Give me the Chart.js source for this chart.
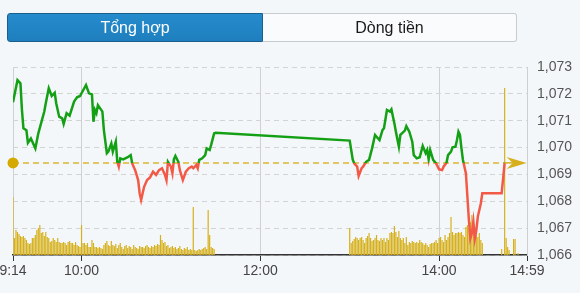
<!DOCTYPE html>
<html>
<head>
<meta charset="utf-8">
<script src="https://cdn.jsdelivr.net/npm/chart.js@4.4.1/dist/chart.umd.min.js"></script>
<style>
  html, body { margin: 0; padding: 0; background: #f4f7fa; }
  body { width: 580px; height: 293px; position: relative; overflow: hidden; font-family: "Liberation Sans", Arial, sans-serif; }
  #chartIndex { position: absolute; left: 0; top: 0; }
  .tabs { position: absolute; left: 7px; top: 13px; width: 510px; height: 29px; display: flex; }
  .tab { box-sizing: border-box; height: 29px; line-height: 27px; text-align: center; font-size: 16px; }
  .tab.active { width: 256px; background: linear-gradient(#258bcc, #1f7fbe); color: #fff; border: 1px solid #1a5f8d; border-radius: 3px 0 0 3px; }
  .tab.other { flex: 1; background: #f9fbfd; color: #1a1a1a; border: 1px solid #c8ccd0; border-left: none; border-radius: 0 3px 3px 0; }
</style>
</head>
<body>
<canvas id="chartIndex" width="580" height="293"></canvas>
<div class="tabs">
  <div class="tab active">Tổng hợp</div>
  <div class="tab other">Dòng tiền</div>
</div>
<script>
// truc thoi gian
const tickLabels = ['9:14', '10:00', '12:00', '14:00', '14:59'];
const refPrice = 1069.43;

// gia chi so
const priceTimes = [
  '9:14', '9:17', '9:19', '9:20', '9:21', '9:23', '9:24', '9:26', '9:29', '9:31',
  '9:35', '9:36', '9:38', '9:40', '9:42', '9:43', '9:45', '9:47', '9:48', '9:50',
  '9:52', '9:55', '9:57', '9:59', '10:03', '10:05', '10:07', '10:08', '10:09', '10:10',
  '10:11', '10:14', '10:15', '10:17', '10:18', '10:20', '10:21', '10:23', '10:24', '10:25',
  '10:26', '10:28', '10:31', '10:33', '10:34', '10:36', '10:38', '10:39', '10:40', '10:42',
  '10:44', '10:46', '10:48', '10:50', '10:52', '10:54', '10:56', '10:57', '10:58', '11:00',
  '11:01', '11:02', '11:03', '11:05', '11:06', '11:08', '11:10', '11:12', '11:14', '11:15',
  '11:17', '11:18', '11:19', '11:21', '11:23', '11:24', '11:26', '11:27', '11:29', '11:30',
  '13:00', '13:01', '13:02', '13:03', '13:05', '13:06', '13:08', '13:09', '13:11', '13:13',
  '13:15', '13:17', '13:19', '13:20', '13:22', '13:23', '13:25', '13:27', '13:28', '13:30',
  '13:31', '13:33', '13:34', '13:37', '13:38', '13:40', '13:42', '13:43', '13:45', '13:47',
  '13:49', '13:51', '13:52', '13:53', '13:54', '13:56', '13:58', '14:00', '14:02', '14:03',
  '14:05', '14:06', '14:08', '14:09', '14:11', '14:12', '14:13', '14:14', '14:15', '14:16',
  '14:18', '14:19', '14:20', '14:21', '14:22', '14:23', '14:24', '14:25', '14:26', '14:28',
  '14:29', '14:42', '14:44'
];
const priceValues = [
  1071.69, 1072.51, 1072.39, 1071.40, 1070.72, 1070.65, 1070.18, 1070.34, 1069.97, 1070.53,
  1071.34, 1071.65, 1072.21, 1071.92, 1072.04, 1071.65, 1071.15, 1071.09, 1070.88, 1071.28,
  1071.19, 1071.71, 1071.87, 1071.92, 1072.33, 1072.02, 1071.98, 1070.96, 1071.40, 1071.28,
  1071.58, 1071.34, 1070.65, 1069.79, 1069.85, 1070.15, 1069.85, 1070.22, 1069.47, 1069.29,
  1069.60, 1069.56, 1069.64, 1069.72, 1069.41, 1069.16, 1068.79, 1068.30, 1068.05, 1068.54,
  1068.79, 1068.89, 1069.10, 1068.98, 1069.16, 1069.23, 1068.98, 1068.79, 1069.47, 1069.29,
  1069.04, 1069.56, 1069.69, 1069.47, 1069.16, 1068.79, 1069.10, 1069.23, 1069.29, 1069.23,
  1069.35, 1069.23, 1069.54, 1069.60, 1069.72, 1069.97, 1069.91, 1070.10, 1070.53, 1070.55,
  1070.26, 1069.91, 1069.56, 1069.41, 1069.29, 1068.94, 1069.23, 1069.29, 1069.47, 1069.54,
  1069.97, 1070.47, 1070.34, 1070.28, 1070.65, 1070.72, 1071.40, 1071.34, 1071.42, 1070.90,
  1070.59, 1070.03, 1070.47, 1070.63, 1070.80, 1070.59, 1070.22, 1069.72, 1069.60, 1069.64,
  1070.06, 1069.79, 1069.91, 1069.56, 1069.91, 1069.54, 1069.41, 1069.19, 1069.16, 1069.29,
  1069.44, 1069.72, 1069.85, 1070.01, 1070.03, 1070.28, 1070.59, 1070.47, 1069.97, 1069.54,
  1069.04, 1068.17, 1067.30, 1066.62, 1066.81, 1067.24, 1066.62, 1066.93, 1067.43, 1067.92,
  1068.30, 1068.30, 1069.44
];

// khoi luong theo phut (phien sang tu 9:14, phien chieu tu 13:00)
const volMorningStart = '9:14';
const volMorning = [
  58, 17, 25, 23, 21, 19, 18, 19, 17, 15, 12, 11, 12, 17, 17, 20, 25, 27, 30, 22,
  23, 19, 23, 18, 17, 13, 14, 17, 15, 13, 17, 13, 12, 12, 13, 12, 10, 13, 14, 12,
  12, 10, 13, 10, 9, 8, 30, 12, 12, 10, 12, 8, 8, 15, 12, 8, 8, 7, 8, 7,
  6, 10, 12, 14, 10, 9, 14, 10, 9, 11, 7, 10, 12, 8, 6, 9, 10, 7, 9, 8,
  6, 10, 8, 7, 6, 9, 8, 8, 7, 9, 10, 8, 7, 9, 8, 10, 9, 11, 10, 20,
  15, 12, 13, 9, 10, 7, 8, 9, 7, 8, 6, 7, 9, 6, 5, 7, 6, 8, 5, 6,
  5, 48, 5, 4, 5, 6, 5, 6, 7, 8, 6, 45, 20, 8, 7, 6
];
const volAfternoonStart = '13:00';
const volAfternoon = [
  27, 12, 14, 16, 18, 17, 15, 17, 18, 15, 12, 17, 19, 22, 17, 14, 15, 17, 20, 15,
  14, 17, 15, 17, 13, 17, 15, 22, 23, 22, 29, 23, 18, 24, 17, 15, 17, 12, 18, 10,
  13, 12, 14, 13, 12, 13, 12, 15, 13, 12, 10, 12, 10, 8, 11, 12, 12, 13, 15, 12,
  17, 18, 15, 13, 20, 15, 18, 22, 38, 23, 20, 22, 22, 23, 22, 23, 20, 18, 28, 30,
  27, 33, 40, 35, 28, 20, 18, 22, 15, 12
];
const volLateTimes = ['14:42', '14:44', '14:45', '14:46', '14:47', '14:50', '14:51', '14:53'];
const volLate = [6, 167, 17, 8, 5, 16, 16, 2];

const toMin = (t) => {
  const [h, m] = t.split(':').map(Number);
  return h * 60 + m;
};

const tickValues = tickLabels.map(toMin);
const priceData = priceTimes.map((t, i) => ({ x: toMin(t), y: priceValues[i] }));
const volData = [];
volMorning.forEach((v, i) => volData.push({ x: toMin(volMorningStart) + i, y: v }));
volAfternoon.forEach((v, i) => volData.push({ x: toMin(volAfternoonStart) + i, y: v }));
volLate.forEach((v, i) => volData.push({ x: toMin(volLateTimes[i]), y: v }));

const lastTime = toMin(priceTimes[priceTimes.length - 1]);
const refData = [{ x: tickValues[0], y: refPrice }, { x: lastTime, y: refPrice }];

const green = '#14a014';
const red = '#f25a47';
const gold = '#d6b01a';

// mau xanh tren tham chieu, do duoi tham chieu
function priceColor(context) {
  const chart = context.chart;
  const area = chart.chartArea;
  if (!area) return green;
  const yRef = chart.scales.y.getPixelForValue(refPrice);
  const stop = Math.min(1, Math.max(0, (yRef - area.top) / (area.bottom - area.top)));
  const g = chart.ctx.createLinearGradient(0, area.top, 0, area.bottom);
  g.addColorStop(0, green);
  g.addColorStop(stop, green);
  g.addColorStop(stop, red);
  g.addColorStop(1, red);
  return g;
}

// mui ten cuoi duong tham chieu
const arrowPlugin = {
  id: 'refArrow',
  afterDatasetsDraw(chart) {
    const x = chart.scales.x.getPixelForValue(lastTime);
    const y = chart.scales.y.getPixelForValue(refPrice);
    const c = chart.ctx;
    c.save();
    c.fillStyle = gold;
    c.strokeStyle = gold;
    c.lineWidth = 1.5;
    c.beginPath();
    c.moveTo(x, y);
    c.lineTo(x + 8, y);
    c.stroke();
    c.beginPath();
    c.moveTo(x + 22, y);
    c.lineTo(x + 2, y - 6);
    c.lineTo(x + 8, y);
    c.lineTo(x + 2, y + 6);
    c.closePath();
    c.fill();
    c.restore();
  }
};

const ctx = document.getElementById('chartIndex').getContext('2d');
new Chart(ctx, {
  type: 'line',
  data: {
    datasets: [
      {
        label: 'VN-Index',
        data: priceData,
        borderColor: priceColor,
        borderWidth: 2.5,
        pointRadius: 0,
        tension: 0,
        yAxisID: 'y',
        order: 1
      },
      {
        label: 'Tham chiếu',
        data: refData,
        borderColor: '#dcb733',
        borderWidth: 1.5,
        borderDash: [6, 4],
        pointRadius: [5.5, 0],
        pointBackgroundColor: '#d4a900',
        pointBorderWidth: 0,
        clip: false,
        yAxisID: 'y',
        order: 2
      },
      {
        type: 'bar',
        label: 'Khối lượng',
        data: volData,
        backgroundColor: gold,
        barPercentage: 0.8,
        categoryPercentage: 1,
        yAxisID: 'yVol',
        order: 3
      }
    ]
  },
  options: {
    responsive: false,
    animation: false,
    devicePixelRatio: 1,
    layout: { padding: { top: 67, left: 13, right: 0, bottom: 0 } },
    plugins: {
      legend: { display: false },
      tooltip: { enabled: false }
    },
    scales: {
      x: {
        type: 'linear',
        min: tickValues[0],
        max: tickValues[tickValues.length - 1],
        offset: false,
        afterBuildTicks: (scale) => {
          scale.ticks = tickValues.map((v) => ({ value: v }));
        },
        afterFit: (scale) => {
          scale.height = 38;
          scale.paddingLeft = 0;
          scale.paddingRight = 0;
        },
        ticks: {
          autoSkip: false,
          maxRotation: 0,
          padding: 2,
          color: '#444',
          font: { family: 'Liberation Sans', size: 14 },
          callback: (v, i) => tickLabels[i]
        },
        grid: { offset: false, color: '#d0d0d0', tickColor: '#333', tickLength: 6 },
        border: { color: '#333', width: 1.5 }
      },
      y: {
        position: 'right',
        min: 1066,
        max: 1073,
        afterFit: (scale) => {
          scale.width = 53;
        },
        ticks: {
          stepSize: 1,
          padding: 10,
          color: '#555',
          font: { family: 'Liberation Sans', size: 14 },
          callback: (v) => v.toLocaleString('en-US')
        },
        grid: { color: '#d3d3d3', drawTicks: false },
        border: { color: '#cfcfcf', dash: [5, 4] }
      },
      yVol: {
        display: false,
        min: 0,
        max: 188
      }
    }
  },
  plugins: [arrowPlugin]
});
</script>
</body>
</html>
